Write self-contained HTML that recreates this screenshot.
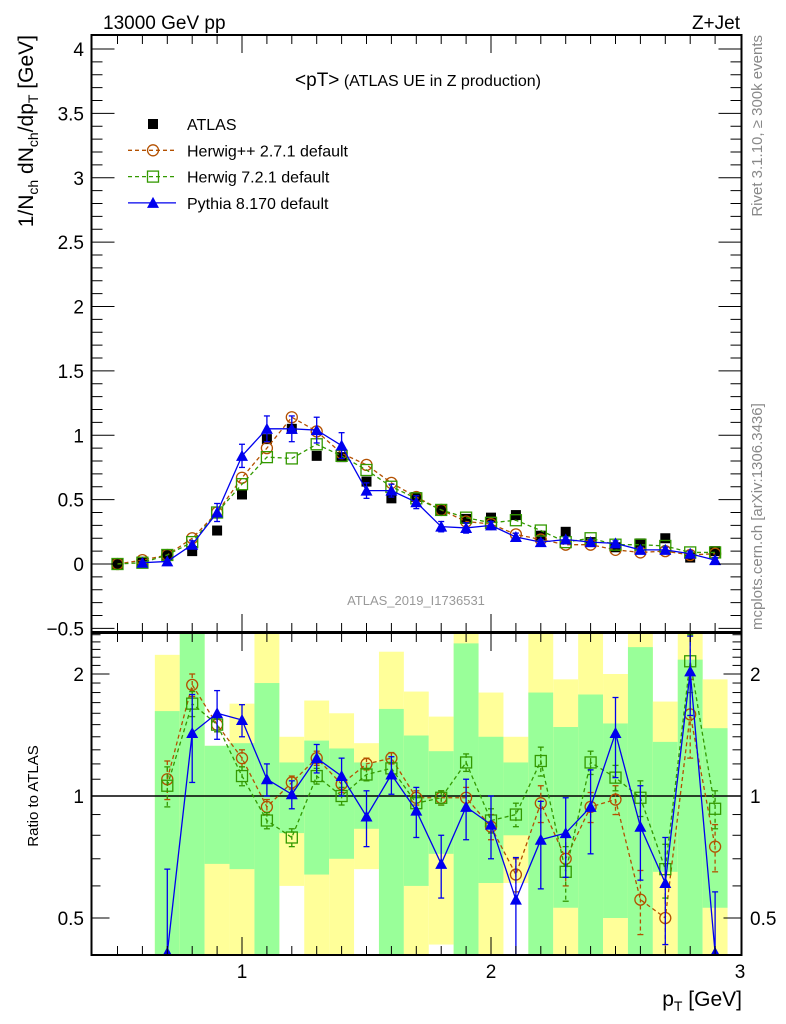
<!DOCTYPE html>
<html><head><meta charset="utf-8"><style>
html,body{margin:0;padding:0;background:#fff;}
svg{display:block;font-family:"Liberation Sans",sans-serif;}
</style></head><body>
<svg id="chart" width="786" height="1024" viewBox="0 0 786 1024" xmlns="http://www.w3.org/2000/svg">
<text x="103" y="29" font-size="19">13000 GeV pp</text>
<text x="740" y="29" font-size="19" text-anchor="end">Z+Jet</text>
<text transform="translate(33,35) rotate(-90)" font-size="21" text-anchor="end">1/N<tspan font-size="14" dy="5">ch</tspan><tspan dy="-5"> dN</tspan><tspan font-size="14" dy="5">ch</tspan><tspan dy="-5">/dp</tspan><tspan font-size="14" dy="5">T</tspan><tspan dy="-5"> [GeV]</tspan></text>
<text transform="translate(762,35) rotate(-90)" font-size="15" fill="#888" text-anchor="end">Rivet 3.1.10, ≥ 300k events</text>
<text transform="translate(762,630) rotate(-90)" font-size="15" fill="#888">mcplots.cern.ch [arXiv:1306.3436]</text>
<text x="418" y="86" font-size="16" text-anchor="middle"><tspan font-size="19">&lt;pT&gt;</tspan> (ATLAS UE in Z production)</text>
<text x="416" y="605" font-size="13" fill="#999" text-anchor="middle">ATLAS_2019_I1736531</text>
<text transform="translate(38,796) rotate(-90)" font-size="15" text-anchor="middle">Ratio to ATLAS</text>
<text x="742" y="1006" font-size="21" text-anchor="end">p<tspan font-size="14" dy="5">T</tspan><tspan dy="-5"> [GeV]</tspan></text>
<g id="bands"></g>
<g id="ratio"></g>
<g id="main"></g>
<g id="axes"></g>
<g id="legend"></g>
</svg>
<script>
const xs = [0.5,0.6,0.7,0.8,0.9,1.0,1.1,1.2,1.3,1.4,1.5,1.6,1.7,1.8,1.9,2.0,2.1,2.2,2.3,2.4,2.5,2.6,2.7,2.8,2.9];
const atlas = [0,0.01,0.07,0.10,0.26,0.54,0.97,1.05,0.84,0.83,0.64,0.51,0.52,0.42,0.35,0.36,0.38,0.22,0.25,0.17,0.13,0.16,0.2,0.05,0.1];
const herpp = [0,0.03,0.07,0.2,0.4,0.67,0.9,1.14,1.03,0.86,0.77,0.63,0.52,0.42,0.33,0.31,0.23,0.19,0.15,0.15,0.11,0.09,0.1,0.07,0.08];
const her7 = [0,0.01,0.07,0.17,0.4,0.62,0.83,0.82,0.93,0.84,0.73,0.6,0.51,0.42,0.36,0.32,0.34,0.26,0.17,0.2,0.15,0.15,0.14,0.09,0.09];
const pythia = [null,0.01,0.02,0.15,0.4,0.84,1.05,1.05,1.04,0.92,0.57,0.57,0.48,0.29,0.28,0.3,0.21,0.17,0.19,0.17,0.16,0.11,0.11,0.08,0.03];
const pythiaErr = [0,0.01,0.01,0.03,0.07,0.09,0.1,0.1,0.1,0.1,0.06,0.05,0.05,0.04,0.04,0.03,0.03,0.02,0.02,0.02,0.02,0.02,0.02,0.02,0.02];
const yTicks = [-0.5,0,0.5,1,1.5,2,2.5,3,3.5,4];

const rxs = [0.7,0.8,0.9,1.0,1.1,1.2,1.3,1.4,1.5,1.6,1.7,1.8,1.9,2.0,2.1,2.2,2.3,2.4,2.5,2.6,2.7,2.8,2.9];
const rPythia = [0.41,1.43,1.6,1.54,1.10,1.01,1.24,1.12,0.89,1.13,0.92,0.68,0.94,0.85,0.555,0.78,0.81,0.94,1.43,0.84,0.61,2.03,0.41];
const rPythiaErr = [0.25,0.35,0.22,0.14,0.1,0.08,0.1,0.12,0.14,0.12,0.13,0.12,0.16,0.15,0.15,0.19,0.18,0.22,0.32,0.22,0.18,0.45,0.17];
const rHerpp = [1.10,1.88,1.5,1.24,0.94,1.08,1.24,1.07,1.2,1.24,0.99,0.99,0.99,0.84,0.64,0.96,0.70,0.94,0.98,0.555,0.5,1.59,0.75];
const rHer7 = [1.06,1.69,1.5,1.12,0.87,0.79,1.12,1.0,1.13,1.17,0.96,0.99,1.21,0.87,0.9,1.22,0.65,1.21,1.11,0.99,0.66,2.15,0.93];
const rErr = [0.12,0.12,0.06,0.06,0.04,0.04,0.05,0.05,0.04,0.04,0.04,0.04,0.06,0.06,0.06,0.1,0.1,0.08,0.08,0.1,0.1,0.35,0.1];
const bandYTop = [2.23,3,1.33,1.69,3,1.40,1.72,1.60,1.35,2.27,1.81,1.57,3,1.80,1.40,3,1.94,3,2.0,3,1.71,3,1.94];
const bandGTop = [1.62,3,1.33,1.35,1.90,1.21,1.37,1.31,1.21,1.64,1.41,1.29,2.38,1.40,1.21,1.80,1.48,1.78,1.51,2.33,1.36,2.17,1.47];
const bandGBot = [0.3,0.3,0.68,0.66,0.3,0.81,0.64,0.70,0.83,0.3,0.60,0.72,0.3,0.61,0.80,0.3,0.53,0.3,0.50,0.3,0.65,0.3,0.53];
const bandYBot = [0.3,0.3,0.3,0.3,0.3,0.60,0.3,0.3,0.66,0.3,0.3,0.43,0.3,0.3,0.61,0.3,0.3,0.3,0.3,0.3,0.3,0.3,0.3];
const rTicks = [0.5,1,2];

const NS="http://www.w3.org/2000/svg";
const L=91.5,R=741.5,T=35,MB=632,RB=955;
const X=v=>242+(v-1)*249;
const Y=v=>564-v*128.75;
const RY=v=>796-Math.log2(v)*122;
const RYc=v=>Math.max(T+598,Math.min(RB,RY(v)));
function el(tag,attrs,parent){const e=document.createElementNS(NS,tag);for(const k in attrs)e.setAttribute(k,attrs[k]);parent.appendChild(e);return e;}
const gB=document.getElementById('bands'),gR=document.getElementById('ratio'),gM=document.getElementById('main'),gA=document.getElementById('axes'),gL=document.getElementById('legend');

rxs.forEach((x,i)=>{
  const x0=X(x-0.05),w=X(x+0.05)-x0;
  let r=el('rect',{x:x0,y:RYc(bandYTop[i]),width:w,height:RYc(bandYBot[i])-RYc(bandYTop[i]),fill:'#ffff99'},gB);
  
  
  let g=el('rect',{x:x0,y:RYc(bandGTop[i]),width:w,height:RYc(bandGBot[i])-RYc(bandGTop[i]),fill:'#99ff99'},gB);
  
  
});
let one=el('line',{x1:L,x2:R,y1:RY(1),y2:RY(1),stroke:'#000','stroke-width':1.5},gR);



function marker(type,cx,cy,color,parent){
  let m;
  if(type==='sq') m=el('rect',{x:cx-5,y:cy-5,width:10,height:10,fill:color},parent);
  else if(type==='osq') m=el('rect',{x:cx-5.5,y:cy-5.5,width:11,height:11,fill:'none',stroke:color,'stroke-width':1.3},parent);
  else if(type==='oc') m=el('circle',{cx:cx,cy:cy,r:5.5,fill:'none',stroke:color,'stroke-width':1.3},parent);
  else m=el('path',{d:`M${cx},${cy-6}L${cx+6},${cy+5}L${cx-6},${cy+5}Z`,fill:color},parent);
  return m;
}
function series(xv,yv,fy,color,dash,type,parent,name,errs,ferrU,ferrD){
  const g=el('g',{},parent);
  
  
  const pts=[];
  xv.forEach((x,i)=>{if(yv[i]!==null)pts.push([X(x),fy(yv[i])]);});
  if(color!=='#000'){const pl=el('polyline',{points:pts.map(p=>p.join(',')).join(' '),fill:'none',stroke:color,'stroke-width':1.3},g);if(dash)pl.setAttribute('stroke-dasharray',dash);}
  xv.forEach((x,i)=>{
    if(yv[i]===null)return;
    if(errs){const e=errs[i];const y1=ferrU(yv[i],e),y2=ferrD(yv[i],e);
      if(Math.abs(y2-y1)>2){const ln=el('line',{x1:X(x),x2:X(x),y1:y1,y2:y2,stroke:color,'stroke-width':1.3},g);if(dash)ln.setAttribute('stroke-dasharray','4,3');
      el('line',{x1:X(x)-3,x2:X(x)+3,y1:y1,y2:y1,stroke:color,'stroke-width':1.3},g);el('line',{x1:X(x)-3,x2:X(x)+3,y1:y2,y2:y2,stroke:color,'stroke-width':1.3},g);}}
    const m=marker(type,X(x),fy(yv[i]),color,g);
    
    
  });
}
series(xs,atlas,Y,'#000',null,'sq',gM,'atlas-series');
series(xs,herpp,Y,'#b35000','4,3','oc',gM,'herwigpp-series');
series(xs,her7,Y,'#339900','4,3','osq',gM,'herwig7-series');
series(xs,pythia,Y,'#0000ee',null,'tri',gM,'pythia-series',pythiaErr,(v,e)=>Y(v+e),(v,e)=>Y(v-e));
const cp=el('clipPath',{id:'rc'},gR);el('rect',{x:L,y:633,width:R-L,height:RB-633},cp);
const gRc=el('g',{'clip-path':'url(#rc)'},gR);
series(rxs,rHerpp,RY,'#b35000','4,3','oc',gRc,'ratio-herwigpp',rErr,(v,e)=>RY(v+e),(v,e)=>RY(v-e));
series(rxs,rHer7,RY,'#339900','4,3','osq',gRc,'ratio-herwig7',rErr,(v,e)=>RY(v+e),(v,e)=>RY(Math.max(0.3,v-e)));
series(rxs,rPythia,RY,'#0000ee',null,'tri',gRc,'ratio-pythia',rPythiaErr,(v,e)=>RY(v+e),(v,e)=>RY(Math.max(0.3,v-e)));

[[T,MB],[633,RB]].forEach(([t,b])=>{const f=el('rect',{x:L,y:t,width:R-L,height:b-t,fill:'none',stroke:'#000','stroke-width':2},gA);});
for(let k=5;k<=29;k++){const x=X(k/10),big=k%10===0,len=big?18:9;
  [[T,1],[MB,-1],[633,1],[RB,-1]].forEach(([y,d])=>el('line',{x1:x,x2:x,y1:y,y2:y+d*len,stroke:'#000','stroke-width':1},gA));}
[1,2,3].forEach(v=>{const t=el('text',{x:X(v),y:978,'font-size':19,'text-anchor':'middle'},gA);t.textContent=v;});
for(let k=-5;k<=40;k++){const y=Y(k/10),big=k%5===0,len=big?23:11;
  el('line',{x1:L,x2:L+len,y1:y,y2:y,stroke:'#000'},gA);el('line',{x1:R,x2:R-len,y1:y,y2:y,stroke:'#000'},gA);}
yTicks.forEach(v=>{const t=el('text',{x:84,y:Y(v)+7,'font-size':19,'text-anchor':'end'},gA);t.textContent=v<0?'\u22120.5':String(v);});
[0.5,0.6,0.7,0.8,0.9,1,1.1,1.2,1.3,1.4,1.5,1.6,1.7,1.8,1.9,2,2.1,2.2,2.3,2.4,2.5].forEach(v=>{const y=RY(v),big=rTicks.includes(v),len=big?18:9;
  el('line',{x1:L,x2:L+len,y1:y,y2:y,stroke:'#000'},gA);el('line',{x1:R,x2:R-len,y1:y,y2:y,stroke:'#000'},gA);});
rTicks.forEach(v=>{let t=el('text',{x:84,y:RY(v)+7,'font-size':19,'text-anchor':'end'},gA);t.textContent=v;
  t=el('text',{x:750,y:RY(v)+7,'font-size':19},gA);t.textContent=v;});

const leg=[['ATLAS','#000',null,'sq'],['Herwig++ 2.7.1 default','#b35000','4,3','oc'],['Herwig 7.2.1 default','#339900','4,3','osq'],['Pythia 8.170 default','#0000ee',null,'tri']];
leg.forEach((e,i)=>{const y=124+i*26.3;const g=el('g',{},gL);
  
  
  if(e[1]!=='#000'){const ln=el('line',{x1:128,x2:176,y1:y,y2:y,stroke:e[1],'stroke-width':1.3},g);if(e[2])ln.setAttribute('stroke-dasharray',e[2]);}
  marker(e[3],153,y,e[1],g);
  const t=el('text',{x:187,y:y+6,'font-size':16},g);t.textContent=e[0];});
</script>
</body></html>
